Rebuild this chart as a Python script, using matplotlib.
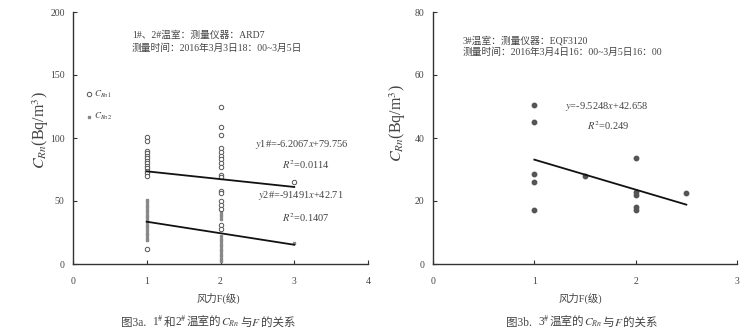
import matplotlib
matplotlib.use("Agg")
import matplotlib.pyplot as plt
from matplotlib.offsetbox import TextArea, HPacker, AnnotationBbox
import numpy as np

plt.rcParams['font.family'] = ['Liberation Serif', 'Noto Sans CJK SC', 'DejaVu Sans']
plt.rcParams['mathtext.fontset'] = 'stix'

# ---- data: figure 3a (greenhouses 1# and 2#) ----
wind_levels_a = [1, 2, 3]
c_rn1_at1 = [101, 98, 90, 88, 86, 84, 82, 80, 78, 76, 74, 72, 70, 12]
c_rn1_at2 = [125, 109, 102, 92, 89, 86, 83, 80, 77, 71, 69, 58, 56, 50, 47, 44, 31, 28]
c_rn1_at3 = [65]
c_rn2_at1 = [51, 49, 47, 45, 43, 41, 39, 37, 35, 33, 31, 29, 27, 25, 23, 21, 19]
c_rn2_at2 = [45, 42, 40, 38, 36, 22, 20, 18, 16, 14, 12, 10, 8, 6, 4, 2]
c_rn2_at3 = [17]
fit1_slope, fit1_intercept = -6.2067, 79.756
fit2_slope, fit2_intercept = -9.1491, 42.71
r2_1, r2_2 = 0.0114, 0.1407

# ---- data: figure 3b (greenhouse 3#) ----
wind_b = [1, 1, 1, 1, 1, 1.5, 2, 2, 2, 2, 2, 2.5]
c_rn_b = [50.5, 45, 28.5, 26, 17, 28, 33.5, 23, 22, 18, 17, 22.5]
fit3_slope, fit3_intercept = -9.5248, 42.658
r2_3 = 0.249

W, H = 755, 335
fig = plt.figure(figsize=(W / 100, H / 100), dpi=100)
txt_col = '#444444'
ax_col = '#333333'

def style(ax, xmax, ymax, ystep):
    ax.set_xlim(0, xmax)
    ax.set_ylim(0, ymax)
    ax.set_xticks(range(0, xmax + 1))
    ax.set_yticks(np.arange(0, ymax + 1, ystep))
    for s in ['top', 'right']:
        ax.spines[s].set_visible(False)
    for s in ['left', 'bottom']:
        ax.spines[s].set_color(ax_col)
        ax.spines[s].set_linewidth(1.0)
    ax.tick_params(direction='in', length=3, width=0.8, colors=ax_col,
                   labelsize=7, labelcolor=txt_col, pad=9)
    ax.tick_params(axis='y', pad=6)

def caption(parts, x, y, size=8.3):
    kids = [TextArea(p, textprops=dict(fontsize=size, color=txt_col)) for p in parts]
    box = HPacker(children=kids, align='baseline', pad=0, sep=0)
    ab = AnnotationBbox(box, (x, y), xycoords='figure fraction', frameon=False,
                        box_alignment=(0.5, 0.5), pad=0)
    fig.add_artist(ab)

# ---------- left panel ----------
axL = fig.add_axes([73 / W, 1 - 264 / H, 295 / W, 252 / H])
style(axL, 4, 200, 50)
for xv, ys in zip(wind_levels_a, [c_rn2_at1, c_rn2_at2, c_rn2_at3]):
    axL.plot([xv] * len(ys), ys, 's', ms=1.8, color='#888888', mec='#888888', zorder=2)
for xv, ys in zip(wind_levels_a, [c_rn1_at1, c_rn1_at2, c_rn1_at3]):
    axL.plot([xv] * len(ys), ys, 'o', ms=3.2, mfc='white', mec='#555555', mew=0.7, zorder=3)
xs = np.array([1, 3])
axL.plot(xs, fit1_slope * xs + fit1_intercept, color='#111111', lw=1.3, zorder=4)
axL.plot(xs, fit2_slope * xs + fit2_intercept, color='#111111', lw=1.3, zorder=4)

# legend
axL.plot([0.22], [135], 'o', ms=3.2, mfc='white', mec='#555555', mew=0.7, clip_on=False)
axL.text(0.29, 135, r'$C_{Rn1}$', fontsize=6.5, color=txt_col, va='center')
axL.plot([0.22], [117], 's', ms=1.8, color='#888888', clip_on=False)
axL.text(0.29, 117, r'$C_{Rn2}$', fontsize=6.5, color=txt_col, va='center')

axL.text(0.80, 182, '1#、2#温室：测量仪器：ARD7', fontsize=7, color=txt_col, va='center')
axL.text(0.80, 171, '测量时间：2016年3月3日18：00~3月5日', fontsize=7, color=txt_col, va='center')
axL.text(2.47, 95, r'$y$1#=-6.2067$x$+79.756', fontsize=7.5, color=txt_col, va='center')
axL.text(2.84, 79, r'$R^2$=0.0114', fontsize=7.5, color=txt_col, va='center')
axL.text(2.51, 54, r'$y$2#=-91491$x$+42.71', fontsize=7.5, color=txt_col, va='center')
axL.text(2.84, 37, r'$R^2$=0.1407', fontsize=7.5, color=txt_col, va='center')

axL.text(-0.11, 0.53, r'$C_{Rn}$(Bq/m$^3$)', transform=axL.transAxes, rotation=90,
         fontsize=11.5, color=txt_col, ha='center', va='center')
fig.text(218 / W, 1 - 298 / H, '风力F(级)', fontsize=7.5, color=txt_col, ha='center', va='center')
caption(['图3a.  ', r'1$^{\#}$', '和', r'2$^{\#}$', '温室的', r'$C_{Rn}$', '与', r'$F$', '的关系'],
        208 / W, 1 - 322 / H)

# ---------- right panel ----------
axR = fig.add_axes([433 / W, 1 - 264 / H, 304 / W, 252 / H])
style(axR, 3, 80, 20)
axR.plot(wind_b, c_rn_b, 'o', ms=3.2, color='#555555', mec='#555555', zorder=3)
xs3 = np.array([1, 2.5])
axR.plot(xs3, fit3_slope * xs3 + fit3_intercept, color='#111111', lw=1.3, zorder=4)

axR.text(0.29, 71, '3#温室：测量仪器：EQF3120', fontsize=7, color=txt_col, va='center')
axR.text(0.29, 67.2, '测量时间：2016年3月4日16：00~3月5日16：00', fontsize=7, color=txt_col, va='center')
axR.text(1.3, 50, r'$y$=-9.5248$x$+42.658', fontsize=7.5, color=txt_col, va='center')
axR.text(1.52, 43.8, r'$R^2$=0.249', fontsize=7.5, color=txt_col, va='center')

axR.text(-0.115, 0.56, r'$C_{Rn}$(Bq/m$^3$)', transform=axR.transAxes, rotation=90,
         fontsize=11.5, color=txt_col, ha='center', va='center')
fig.text(580 / W, 1 - 298 / H, '风力F(级)', fontsize=7.5, color=txt_col, ha='center', va='center')
caption(['图3b.  ', r'3$^{\#}$', '温室的', r'$C_{Rn}$', '与', r'$F$', '的关系'],
        582 / W, 1 - 322 / H)

fig.savefig('out.png', dpi=100)
